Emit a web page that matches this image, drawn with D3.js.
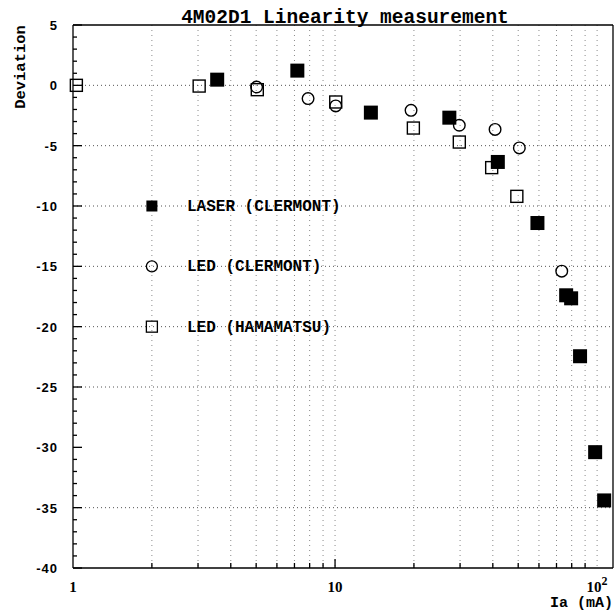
<!DOCTYPE html>
<html><head><meta charset="utf-8">
<script src="https://cdn.jsdelivr.net/npm/d3@7"></script>
<style>body{margin:0;background:#fff}svg{display:block}</style>
</head><body><svg id="c" width="615" height="614"></svg>
<script>
const title = "4M02D1 Linearity measurement";
const xLabel = "Ia (mA)";
const yLabel = "Deviation";
const seriesNames = ["LASER (CLERMONT)", "LED (CLERMONT)", "LED (HAMAMATSU)"];
const legendY = [-10, -15, -20];

const laserX = [3.55, 7.18, 13.7, 27.3, 41.8, 59.2, 76.2, 79.6, 86.1, 98.3, 106.4];
const laserY = [0.47, 1.22, -2.26, -2.68, -6.35, -11.41, -17.4, -17.65, -22.45, -30.4, -34.4];
const ledClX = [5.02, 7.89, 10.06, 19.5, 29.8, 40.8, 50.5, 73.3];
const ledClY = [-0.14, -1.10, -1.71, -2.07, -3.31, -3.65, -5.19, -15.4];
const ledHaX = [1.03, 3.03, 5.05, 10.06, 19.9, 29.8, 39.6, 49.4];
const ledHaY = [0.0, -0.06, -0.36, -1.38, -3.54, -4.70, -6.82, -9.20];

const yTicks = [5, 0, -5, -10, -15, -20, -25, -30, -35, -40];
const yGrid = [0, -5, -10, -15, -20, -25, -35];
const xMinor = [2,3,4,5,6,7,8,9,20,30,40,50,60,70,80,90];
const xMajor = [1, 10, 100];

const svg = d3.select("#c");
const x = d3.scaleLog().domain([1, 115]).range([73, 613]);
const y = d3.scaleLinear().domain([-40, 5]).range([568, 25]);
const mono = "'Liberation Mono','Courier New',monospace";

// grid
const g = svg.append("g").attr("stroke-width", 1);
g.selectAll(".vg").data(xMinor.concat([10, 100])).join("line")
  .attr("stroke", "#8a8a8a").attr("stroke-dasharray", "1,4")
  .attr("x1", d => x(d)).attr("x2", d => x(d)).attr("y1", y(5)).attr("y2", y(-40));
g.selectAll(".hg").data(yGrid).join("line")
  .attr("stroke", "#555").attr("stroke-dasharray", "1,3")
  .attr("x1", x(1)).attr("x2", 613).attr("y1", d => y(d)).attr("y2", d => y(d));

// frame
const f = svg.append("g").attr("stroke", "#000").attr("stroke-width", 1.3).attr("fill", "none");
f.append("line").attr("x1", x(1)).attr("x2", x(1)).attr("y1", y(5)).attr("y2", y(-40));
f.append("line").attr("x1", x(1)).attr("x2", 613).attr("y1", y(-40)).attr("y2", y(-40));
f.append("line").attr("x1", x(1)).attr("x2", 613).attr("y1", y(5)).attr("y2", y(5));
f.append("line").attr("x1", 613).attr("x2", 613).attr("y1", y(5)).attr("y2", y(-40));

// y ticks
const yMinor = d3.range(-40, 6, 1);
f.selectAll(".ym").data(yMinor).join("line")
  .attr("x1", x(1)).attr("x2", d => x(1) + (d % 5 === 0 ? 9 : 4))
  .attr("y1", d => y(d)).attr("y2", d => y(d));
// x ticks
f.selectAll(".xm").data(xMinor).join("line")
  .attr("x1", d => x(d)).attr("x2", d => x(d)).attr("y1", y(-40)).attr("y2", y(-40) - 5);
f.selectAll(".xM").data([10]).join("line")
  .attr("x1", d => x(d)).attr("x2", d => x(d)).attr("y1", y(-40)).attr("y2", y(-40) - 9);

// y tick labels
svg.append("g").selectAll("text").data(yTicks).join("text")
  .attr("x", 58).attr("y", d => y(d) + 5).attr("text-anchor", "end")
  .attr("font-family", "'Liberation Sans',Arial,sans-serif").attr("font-weight", "bold")
  .attr("font-size", 13).attr("letter-spacing", 1).text(d => d);

// x tick labels
const xl = svg.append("g").attr("font-family", "'Liberation Serif','Times New Roman',serif")
  .attr("font-weight", "bold").attr("font-size", 15).attr("text-anchor", "middle");
xMajor.forEach(v => {
  const t = xl.append("text").attr("x", x(v)).attr("y", 592);
  if (v === 100) { t.text("10"); t.append("tspan").attr("dy", -7).attr("font-size", 12).text("2"); }
  else t.text(v);
});

// titles
svg.append("text").attr("x", 345).attr("y", 23).attr("text-anchor", "middle")
  .attr("font-family", mono).attr("font-size", 19.5).attr("font-weight", "bold").text(title);
svg.append("text").attr("transform", "translate(25,67) rotate(-90)").attr("text-anchor", "middle")
  .attr("font-family", mono).attr("font-size", 15.5).attr("font-weight", "bold").text(yLabel);
svg.append("text").attr("x", 613).attr("y", 607).attr("text-anchor", "end")
  .attr("font-family", mono).attr("font-size", 15).attr("font-weight", "bold").text(xLabel);

// data
const pts = svg.append("g");
pts.selectAll(".ha").data(ledHaX.map((v, i) => [v, ledHaY[i]])).join("rect")
  .attr("x", d => x(d[0]) - 6).attr("y", d => y(d[1]) - 6).attr("width", 12).attr("height", 12)
  .attr("fill", "none").attr("stroke", "#000").attr("stroke-width", 1.4);
pts.selectAll(".cl").data(ledClX.map((v, i) => [v, ledClY[i]])).join("circle")
  .attr("cx", d => x(d[0])).attr("cy", d => y(d[1])).attr("r", 5.8)
  .attr("fill", "none").attr("stroke", "#000").attr("stroke-width", 1.4);
pts.selectAll(".la").data(laserX.map((v, i) => [v, laserY[i]])).join("rect")
  .attr("x", d => x(d[0]) - 7).attr("y", d => y(d[1]) - 7).attr("width", 14).attr("height", 14)
  .attr("fill", "#000");

// legend
const lx = x(2);
const lg = svg.append("g");
lg.append("rect").attr("x", lx - 5.5).attr("y", y(legendY[0]) - 5.5).attr("width", 11).attr("height", 11).attr("fill", "#000");
lg.append("circle").attr("cx", lx).attr("cy", y(legendY[1])).attr("r", 5.5).attr("fill", "none").attr("stroke", "#000").attr("stroke-width", 1.3);
lg.append("rect").attr("x", lx - 5.5).attr("y", y(legendY[2]) - 5.5).attr("width", 11).attr("height", 11).attr("fill", "none").attr("stroke", "#000").attr("stroke-width", 1.3);
lg.selectAll("text").data(seriesNames).join("text")
  .attr("x", 187).attr("y", (d, i) => y(legendY[i]) + 5)
  .attr("font-family", mono).attr("font-size", 16).attr("font-weight", "bold").text(d => d);
</script></body></html>
